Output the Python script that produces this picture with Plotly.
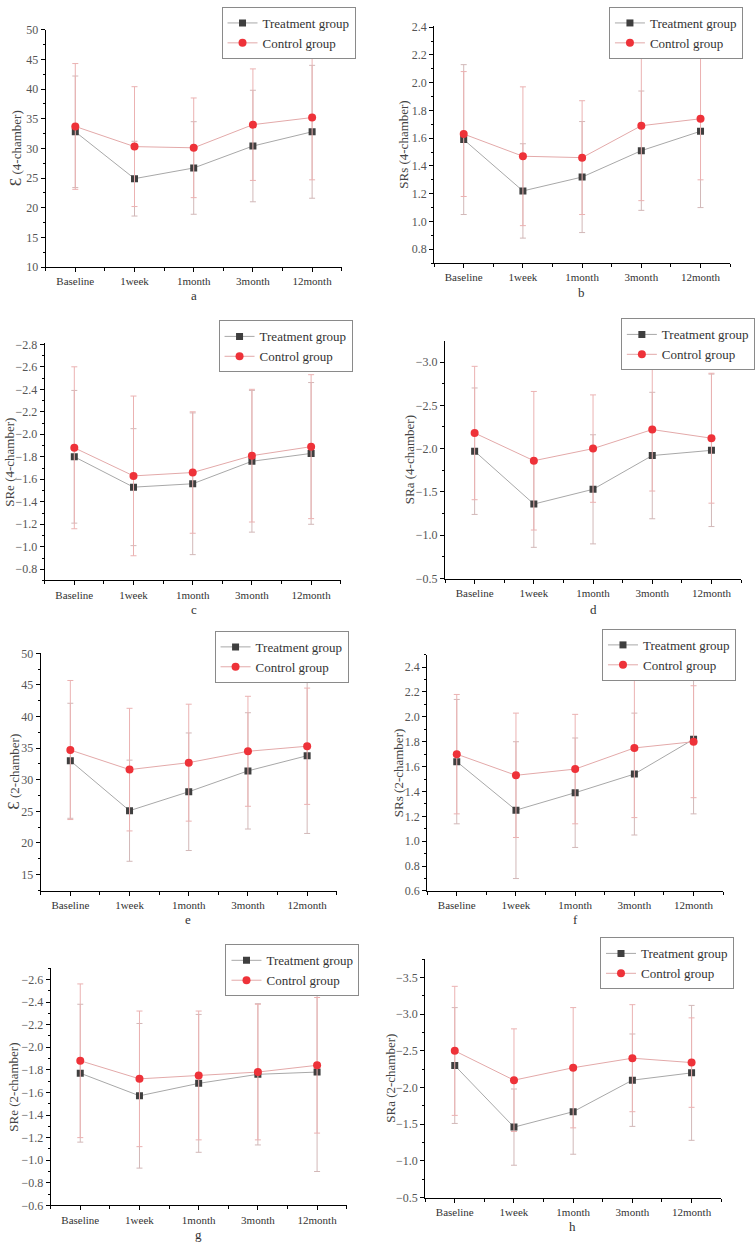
import plotly.graph_objects as go

W, H = 755, 1249

categories = ["Baseline", "1week", "1month", "3month", "12month"]
series_names = ["Treatment group", "Control group"]

# ---- data (mean, SD) ----
a_treat = [32.8, 24.9, 26.7, 30.4, 32.8]
a_treat_sd = [9.4, 6.3, 7.8, 9.4, 11.2]
a_ctrl = [33.7, 30.3, 30.1, 34.0, 35.2]
a_ctrl_sd = [10.6, 10.1, 8.4, 9.4, 10.5]

b_treat = [1.59, 1.22, 1.32, 1.51, 1.65]
b_treat_sd = [0.54, 0.34, 0.40, 0.43, 0.55]
b_ctrl = [1.63, 1.47, 1.46, 1.69, 1.74]
b_ctrl_sd = [0.45, 0.50, 0.41, 0.54, 0.44]

c_treat = [-1.80, -1.53, -1.56, -1.76, -1.83]
c_treat_sd = [0.59, 0.52, 0.63, 0.63, 0.63]
c_ctrl = [-1.88, -1.63, -1.66, -1.81, -1.89]
c_ctrl_sd = [0.72, 0.71, 0.54, 0.59, 0.64]

d_treat = [-1.97, -1.36, -1.53, -1.92, -1.98]
d_treat_sd = [0.73, 0.50, 0.63, 0.73, 0.88]
d_ctrl = [-2.18, -1.86, -2.00, -2.22, -2.12]
d_ctrl_sd = [0.77, 0.80, 0.62, 0.71, 0.75]

e_treat = [33.0, 25.1, 28.1, 31.4, 33.8]
e_treat_sd = [9.1, 8.0, 9.3, 9.2, 12.3]
e_ctrl = [34.7, 31.6, 32.7, 34.5, 35.3]
e_ctrl_sd = [11.0, 9.7, 9.25, 8.7, 9.2]

f_treat = [1.64, 1.25, 1.39, 1.54, 1.82]
f_treat_sd = [0.50, 0.55, 0.44, 0.49, 0.60]
f_ctrl = [1.70, 1.53, 1.58, 1.75, 1.80]
f_ctrl_sd = [0.48, 0.50, 0.44, 0.56, 0.45]

g_treat = [-1.77, -1.57, -1.68, -1.76, -1.78]
g_treat_sd = [0.61, 0.64, 0.61, 0.625, 0.88]
g_ctrl = [-1.88, -1.72, -1.75, -1.78, -1.84]
g_ctrl_sd = [0.68, 0.60, 0.57, 0.60, 0.60]

h_treat = [-2.30, -1.46, -1.67, -2.10, -2.20]
h_treat_sd = [0.79, 0.52, 0.58, 0.63, 0.92]
h_ctrl = [-2.50, -2.10, -2.27, -2.40, -2.34]
h_ctrl_sd = [0.88, 0.70, 0.82, 0.73, 0.61]

y_titles = [
    "<span style='font-size:17px'>Ɛ</span> (4-chamber)", "SRs (4-chamber)",
    "SRe (4-chamber)", "SRa (4-chamber)",
    "<span style='font-size:17px'>Ɛ</span> (2-chamber)", "SRs (2-chamber)",
    "SRe (2-chamber)", "SRa (2-chamber)",
]
panel_letters = ["a", "b", "c", "d", "e", "f", "g", "h"]

data = [
    (a_treat, a_treat_sd, a_ctrl, a_ctrl_sd),
    (b_treat, b_treat_sd, b_ctrl, b_ctrl_sd),
    (c_treat, c_treat_sd, c_ctrl, c_ctrl_sd),
    (d_treat, d_treat_sd, d_ctrl, d_ctrl_sd),
    (e_treat, e_treat_sd, e_ctrl, e_ctrl_sd),
    (f_treat, f_treat_sd, f_ctrl, f_ctrl_sd),
    (g_treat, g_treat_sd, g_ctrl, g_ctrl_sd),
    (h_treat, h_treat_sd, h_ctrl, h_ctrl_sd),
]

# ---- layout (pixels): x0, x1, ytop, ybottom, y-range, dtick, title x, letter (x,y), legend (x,y)
panels = [
    dict(x0=46, x1=344, yt=23, yb=263, rng=[10, 50], dt=5, fmt="d", tx=15, lx=195, ly=292, gx=223, gy=0),
    dict(x0=437, x1=735, yt=19, yb=259, rng=[0.7, 2.41], dt=0.2, fmt=".1f", tx=406, lx=585, ly=289, gx=613, gy=0),
    dict(x0=45, x1=343, yt=340, yb=580, rng=[-0.7, -2.81], dt=0.2, fmt=".1f", tx=10, lx=195, ly=609, gx=220, gy=317),
    dict(x0=448, x1=746, yt=338, yb=578, rng=[-0.5, -3.24], dt=0.5, fmt=".1f", tx=413, lx=597, ly=609, gx=625, gy=315),
    dict(x0=41, x1=339, yt=653, yb=894, rng=[12.4, 50.1], dt=5, fmt="d", tx=14, lx=189, ly=923, gx=216, gy=631),
    dict(x0=430, x1=728, yt=655, yb=894, rng=[0.6, 2.5], dt=0.2, fmt=".1f", tx=401, lx=579, ly=923, gx=606, gy=629),
    dict(x0=51, x1=349, yt=972, yb=1212, rng=[-0.6, -2.7], dt=0.2, fmt=".1f", tx=14, lx=200, ly=1241, gx=227, gy=948),
    dict(x0=428, x1=726, yt=963, yb=1204, rng=[-0.5, -3.75], dt=0.5, fmt=".1f", tx=393, lx=576, ly=1233, gx=604, gy=941),
]

SERIF = "Liberation Serif"
idx = list(range(len(categories)))

fig = go.Figure()
layout = dict(
    width=W, height=H, margin=dict(l=0, r=0, t=0, b=0),
    paper_bgcolor="white", plot_bgcolor="white",
    font=dict(family=SERIF, size=11, color="#333"),
    annotations=[],
)

for i, (p, (t, tsd, c, csd)) in enumerate(zip(panels, data)):
    n = i + 1
    sfx = "" if n == 1 else str(n)
    leg = "legend" + sfx
    fig.add_trace(go.Scatter(
        x=idx, y=t, name=series_names[0], mode="lines+markers",
        xaxis="x" + sfx, yaxis="y" + sfx, legend=leg,
        line=dict(color="#a8a8a8", width=1),
        marker=dict(symbol="square", size=7, color="#3f3f3f"),
        error_y=dict(type="data", array=tsd, symmetric=True, color="#d2b8b8", thickness=1, width=3),
    ))
    fig.add_trace(go.Scatter(
        x=idx, y=c, name=series_names[1], mode="lines+markers",
        xaxis="x" + sfx, yaxis="y" + sfx, legend=leg,
        line=dict(color="#e3a9a9", width=1),
        marker=dict(symbol="circle", size=8, color="#ee3239"),
        error_y=dict(type="data", array=csd, symmetric=True, color="#ebb2b2", thickness=1, width=3),
    ))
    layout["xaxis" + sfx] = dict(
        domain=[p["x0"] / W, p["x1"] / W], anchor="y" + sfx,
        range=[-0.5, len(categories) - 0.5],
        tickmode="array", tickvals=idx, ticktext=categories,
        showline=True, linecolor="black", linewidth=1,
        ticks="outside", ticklen=4, tickcolor="black",
        showgrid=False, zeroline=False,
        tickfont=dict(family=SERIF, size=11, color="#333"),
        minor=dict(tickmode="linear", tick0=-0.5, dtick=0.5, ticks="outside", ticklen=3, tickcolor="black"),
        fixedrange=True,
    )
    layout["yaxis" + sfx] = dict(
        domain=[1 - p["yb"] / H, 1 - p["yt"] / H], anchor="x" + sfx,
        range=p["rng"], tickmode="linear", tick0=0, dtick=p["dt"], tickformat=p["fmt"],
        showline=True, linecolor="black", linewidth=1,
        ticks="outside", ticklen=4, tickcolor="black",
        showgrid=False, zeroline=False,
        tickfont=dict(family=SERIF, size=12, color="#555"),
        minor=dict(tickmode="linear", tick0=0, dtick=p["dt"] / 2, ticks="outside", ticklen=2, tickcolor="black"),
        fixedrange=True,
    )
    layout[leg] = dict(
        x=p["gx"] / W, y=1 - p["gy"] / H, xanchor="left", yanchor="top",
        bgcolor="white", bordercolor="#8a8a8a", borderwidth=1,
        font=dict(family=SERIF, size=13, color="#333"),
        tracegroupgap=0, itemwidth=30,
    )
    layout["annotations"].append(dict(
        text=y_titles[i], x=p["tx"] / W, y=1 - (p["yt"] + p["yb"]) / 2 / H,
        xref="paper", yref="paper", showarrow=False, textangle=-90,
        xanchor="center", yanchor="middle",
        font=dict(family=SERIF, size=13, color="#444"),
    ))
    layout["annotations"].append(dict(
        text=panel_letters[i], x=p["lx"] / W, y=1 - p["ly"] / H,
        xref="paper", yref="paper", showarrow=False,
        xanchor="center", yanchor="middle",
        font=dict(family=SERIF, size=13, color="#333"),
    ))

fig.update_layout(**layout)
fig.write_html("out.html")
